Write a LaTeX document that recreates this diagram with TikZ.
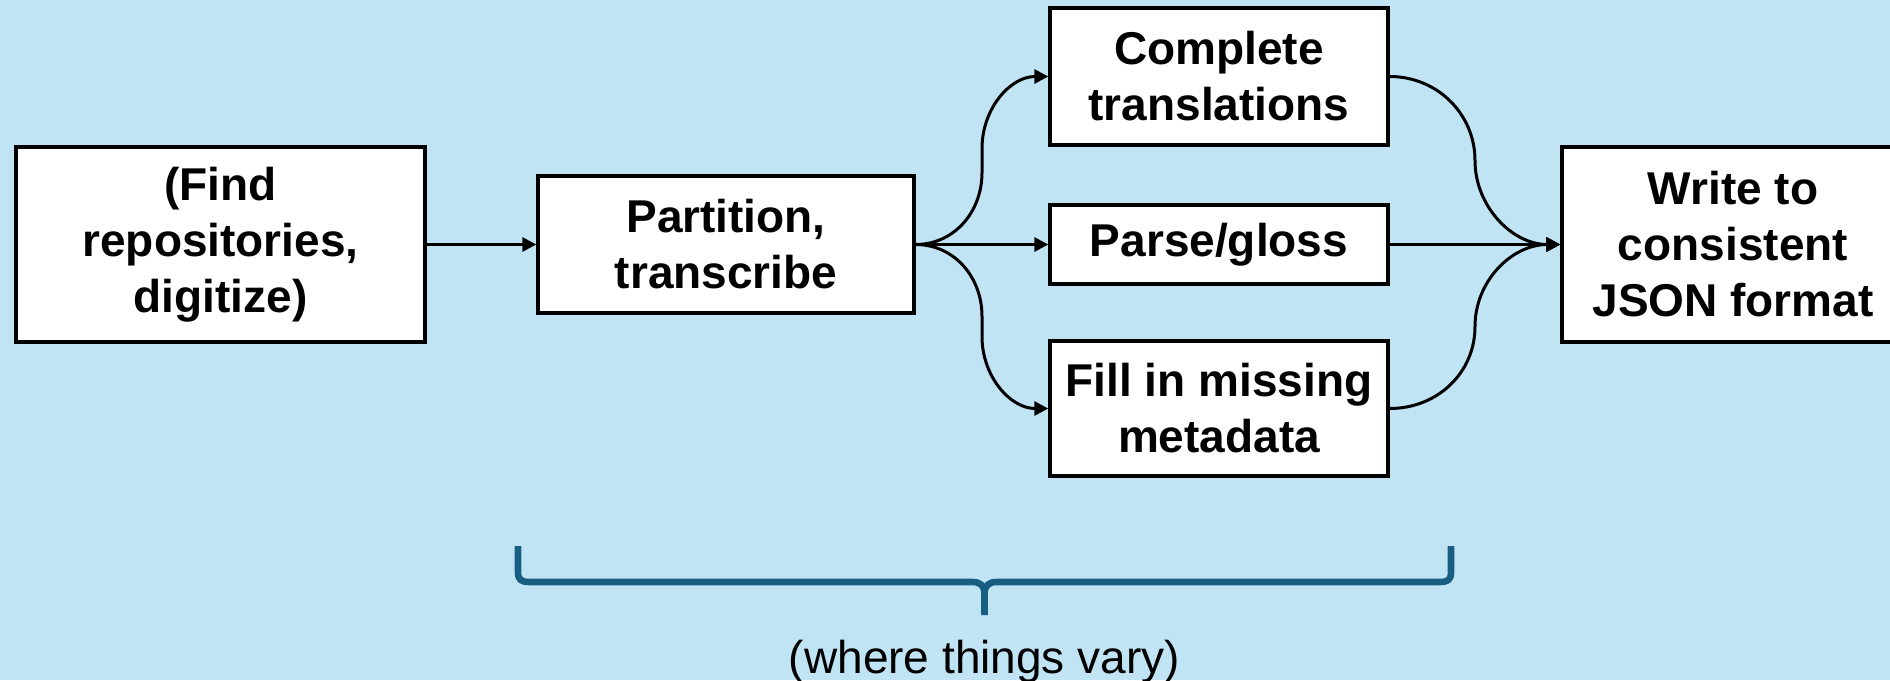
\documentclass[tikz,border=0pt]{standalone}
\usepackage{fontspec}
\setmainfont{Liberation Sans}
\usetikzlibrary{arrows.meta,calc}
\definecolor{bgblue}{RGB}{193,228,245}
\definecolor{bracec}{RGB}{24,94,131}
\begin{document}
\begin{tikzpicture}[x=0.5pt,y=-0.5pt,
  stepbox/.style={draw=black, fill=white, line width=1.7pt, align=center,
    inner sep=0pt, font=\bfseries\fontsize{23}{28}\selectfont},
  arr/.style={line width=1.5pt, -{Triangle[length=7pt,width=7pt]}},
  bracepath/.style={draw=bracec, line width=3.3pt, line join=round}]
\clip (0,0) rectangle (1890,680);
\fill[bgblue] (0,0) rectangle (1890,680);

% pipeline stages
\node[stepbox, minimum width=204.5pt, minimum height=97.5pt] (find) at (220.5,244.5) {(Find\\repositories,\\digitize)};
\node[stepbox, minimum width=188pt, minimum height=68.5pt] (part) at (726,244.5) {Partition,\\transcribe};
\node[stepbox, minimum width=169pt, minimum height=68.5pt] (trans) at (1219,76.5) {Complete\\translations};
\node[stepbox, minimum width=169pt, minimum height=39.5pt] (parse) at (1219,244.5) {Parse/gloss};
\node[stepbox, minimum width=169pt, minimum height=67.5pt] (fill) at (1219,408.5) {Fill in missing\\metadata};
\node[stepbox, minimum width=171pt, minimum height=97.5pt] (json) at (1733,244.5) {Write to\\consistent\\JSON format};

% x positions where the forking and merging curves turn vertical
\coordinate (forkx) at (982,0);
\coordinate (mergex) at (1475,0);

% straight connectors
\draw[arr] (find.east) -- (part.west);
\draw[arr] (part.east) -- (parse.west);
\draw[arr] (parse.east) -- (json.west);

% fork: quarter arcs joined by a short vertical run
\draw[arr] (part.east) .. controls +(38,0) and +(0,40) .. ($(forkx |- part.east)+(0,-72)$)
  -- ($(forkx |- trans.west)+(0,72)$) .. controls +(0,-40) and +(-38,0) .. (trans.west);
\draw[arr] (part.east) .. controls +(38,0) and +(0,-40) .. ($(forkx |- part.east)+(0,72)$)
  -- ($(forkx |- fill.west)+(0,-72)$) .. controls +(0,40) and +(-38,0) .. (fill.west);

% merge: two quarter arcs meeting halfway
\draw[arr] (trans.east) .. controls +(48,0) and +(0,-46) .. ($(mergex |- trans.east)!0.5!(mergex |- json.west)$)
  .. controls +(0,46) and +(-48,0) .. (json.west);
\draw[arr] (fill.east) .. controls +(48,0) and +(0,46) .. ($(mergex |- fill.east)!0.5!(mergex |- json.west)$)
  .. controls +(0,-46) and +(-48,0) .. (json.west);

% brace under the varying stages
\coordinate (bl) at (518,546);
\coordinate (br) at (1451,546);
\coordinate (btip) at (984.5,615);
\draw[bracepath] (bl) -- (518,572) .. controls (518,580) and (521,582) .. (530,582)
  -- (972,582) .. controls (980,582) and (984.5,585) .. (984.5,594) -- (btip);
\draw[bracepath] (br) -- (1451,572) .. controls (1451,580) and (1448,582) .. (1439,582)
  -- (997,582) .. controls (989,582) and (984.5,585) .. (984.5,594);
\node[anchor=base, inner sep=0pt, font=\fontsize{23}{27}\selectfont] (vary) at (984.5,673) {(where things vary)};
\end{tikzpicture}
\end{document}
